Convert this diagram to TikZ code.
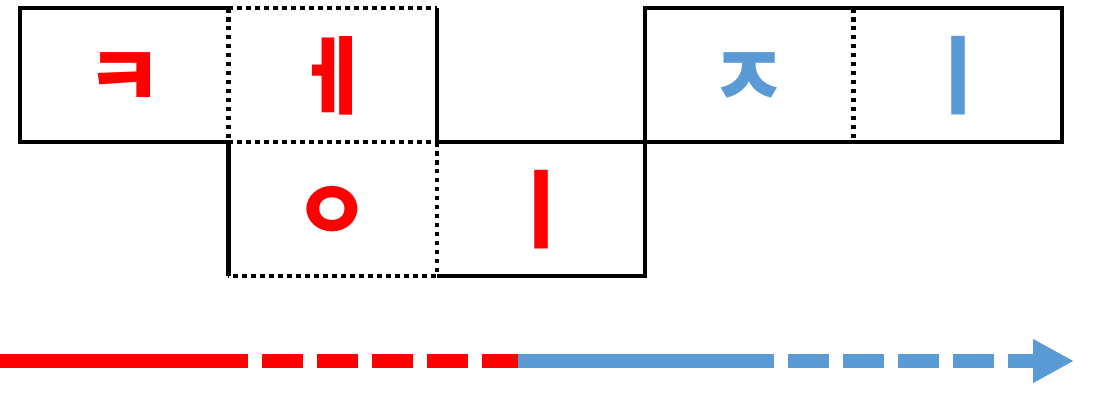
\documentclass[tikz,border=0pt]{standalone}
\usepackage{fontspec}
\newfontfamily\krfont{Noto Sans CJK KR}
\usetikzlibrary{arrows.meta}
\definecolor{jamored}{HTML}{FF0000}
\definecolor{jamoblue}{HTML}{5B9BD5}

\begin{document}
\begin{tikzpicture}[x=0.02cm, y=0.02cm,
    cell/.style={minimum width=4.168cm, minimum height=2.68cm, inner sep=0pt, outer sep=0pt,
        text height=37pt, text depth=0pt,
        font=\krfont\bfseries\fontsize{48}{48}\selectfont},
    edge/.style={line width=0.09cm, black},
    dotedge/.style={edge, dash pattern=on 0.09cm off 0.09cm}]
    \useasboundingbox (0,0) rectangle (1120,405);
    % syllable cells
    \node[cell, text=jamored] (kieuk) at (124.2,330) {ㅋ};
    \node[cell, text=jamored] (e) at (332.6,330) {ㅔ};
    \node[cell, text=jamored] (ieung) at (332.6,196) {ㅇ};
    \node[cell, text=jamored] (i) at (541,196) {ㅣ};
    \node[cell, text=jamoblue] (jieut) at (749.4,330) {ㅈ};
    \node[cell, text=jamoblue] (ii) at (957.8,330) {ㅣ};
    % solid outline
    \draw[edge] (kieuk.north east) -- (kieuk.north west) -- (kieuk.south west) -- (kieuk.south east) -- (kieuk.south east |- ieung.south west);
    \draw[edge] (e.north east) -- (e.south east) -- (ii.south east) -- (ii.north east) -- (jieut.north west) -- (jieut.north west |- i.south east) -- (i.south west);
    % dotted borders
    \draw[dotedge] (e.north west) -- (e.north east);
    \draw[dotedge] (kieuk.north east) -- (kieuk.south east);
    \draw[dotedge] (e.south west) -- (e.south east);
    \draw[dotedge] (ieung.north east) -- (ieung.south east) -- (ieung.south west);
    \draw[dotedge] (jieut.north east) -- (jieut.south east);
    % time arrow
    \coordinate (start) at (0,44);
    \coordinate (redend) at (248,44);
    \coordinate (mid) at (518,44);
    \coordinate (blueend) at (774,44);
    \coordinate (tip) at (1074,44);
    \draw[jamored, line width=0.28cm] (start) -- (redend);
    \draw[jamored, line width=0.28cm, dash pattern=on 0.82cm off 0.28cm, dash phase=0.82cm] (redend) -- (mid);
    \draw[jamoblue, line width=0.28cm] (mid) -- (blueend);
    \draw[jamoblue, line width=0.28cm, dash pattern=on 0.82cm off 0.28cm, dash phase=0.82cm,
        -{Triangle[length=0.82cm, width=0.82cm]}] (blueend) -- (tip);
\end{tikzpicture}
\end{document}
